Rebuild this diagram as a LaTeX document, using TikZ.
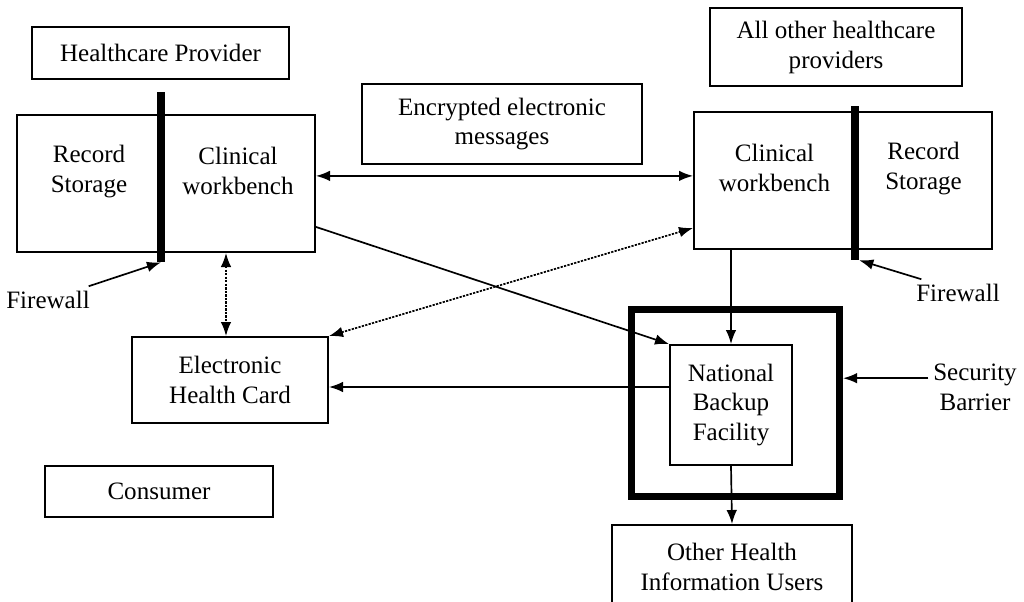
\documentclass[tikz,border=0pt]{standalone}
\usepackage{fontspec}
\setmainfont{Liberation Serif}
\usetikzlibrary{arrows.meta}

\begin{document}
\begin{tikzpicture}[x=0.025cm,y=-0.025cm,
    every node/.style={font=\fontsize{17.8}{21.3}\selectfont, align=center},
    box/.style={draw, line width=1.3pt, inner sep=0pt},
    bar/.style={fill, inner sep=0pt, minimum width=0.2cm},
    link/.style={line width=1.2pt, -{Latex[length=10pt,width=7.5pt]}},
    twoway/.style={line width=1.2pt, {Latex[length=10pt,width=7.5pt]}-{Latex[length=10pt,width=7.5pt]}},
    dots/.style={dash pattern=on 1.6pt off 0.9pt}]
    \useasboundingbox (0,0) rectangle (1024,601);
    \node[box, minimum width=6.425cm, minimum height=1.3cm] (hp) at (160.5,53) {Healthcare Provider};
    \node[box, minimum width=3.6cm, minimum height=3.425cm] (rsL) at (89,183.5) {};
    \node[box, minimum width=3.85cm, minimum height=3.425cm] (cwL) at (238,183.5) {};
    \node (rsLtext) at ([yshift=0.31cm]rsL) {Record\\Storage};
    \node (cwLtext) at ([yshift=0.31cm]cwL) {Clinical\\workbench};
    \node[bar, minimum height=4.25cm] (barL) at (161,177) {};
    \node (fwL) at (48,300) {Firewall};

    \node[box, minimum width=7cm, minimum height=2cm] (enc) at (502,124) {Encrypted electronic\\messages};

    \node[box, minimum width=6.3cm, minimum height=1.95cm] (aop) at (836,47) {All other healthcare\\providers};
    \node[box, minimum width=4.025cm, minimum height=3.425cm] (cwR) at (774.5,180.5) {};
    \node[box, minimum width=3.425cm, minimum height=3.425cm] (rsR) at (923.5,180.5) {};
    \node (cwRtext) at ([yshift=0.31cm]cwR) {Clinical\\workbench};
    \node (rsRtext) at ([yshift=0.31cm]rsR) {Record\\Storage};
    \node[bar, minimum height=3.85cm] (barR) at (855,183) {};
    \node (fwR) at (958,293) {Firewall};

    \node[box, minimum width=4.9cm, minimum height=2.15cm] (ehc) at (230,380) {Electronic\\Health Card};
    \node[box, minimum width=5.7cm, minimum height=1.275cm] (cons) at (159,491.5) {Consumer};

    \node[draw, line width=5pt, minimum width=5.2cm, minimum height=4.675cm] (sec) at (735.5,403) {};
    \node[box, fill=white, minimum width=3.05cm, minimum height=3cm] (nbf) at (731,405) {National\\Backup\\Facility};
    \node (sbar) at (975,387) {Security\\Barrier};
    \node[box, minimum width=6cm, minimum height=2.1cm] (ohiu) at (732,567) {Other Health\\Information Users};

    \draw[twoway] ([yshift=0.19cm]cwL.east) -- ([yshift=0.19cm]cwL.east -| cwR.west);
    \draw[twoway, dots] ([xshift=-0.1cm]ehc.north |- cwL.south) -- ([xshift=-0.1cm]ehc.north);
    \draw[twoway, dots] (ehc.north east) -- ([yshift=0.55cm]cwR.south west);
    \draw[link] ([yshift=0.65cm]cwL.south east) -- (nbf.north west);
    \draw[link] (nbf.north |- cwR.south) -- (nbf.north);
    \draw[link] ([yshift=0.45cm]nbf.west) -- ([yshift=0.45cm]nbf.west -| ehc.east);
    \draw[link] (nbf.south) -- (ohiu.north);
    \draw[link] ([xshift=-0.15cm]fwL.north east) -- (barL.south);
    \draw[link] ([xshift=0.25cm]fwR.north west) -- (barR.south east);
    \draw[link] ([yshift=0.22cm]sbar.west) -- ([yshift=0.22cm]sbar.west -| sec.east);
\end{tikzpicture}
\end{document}
